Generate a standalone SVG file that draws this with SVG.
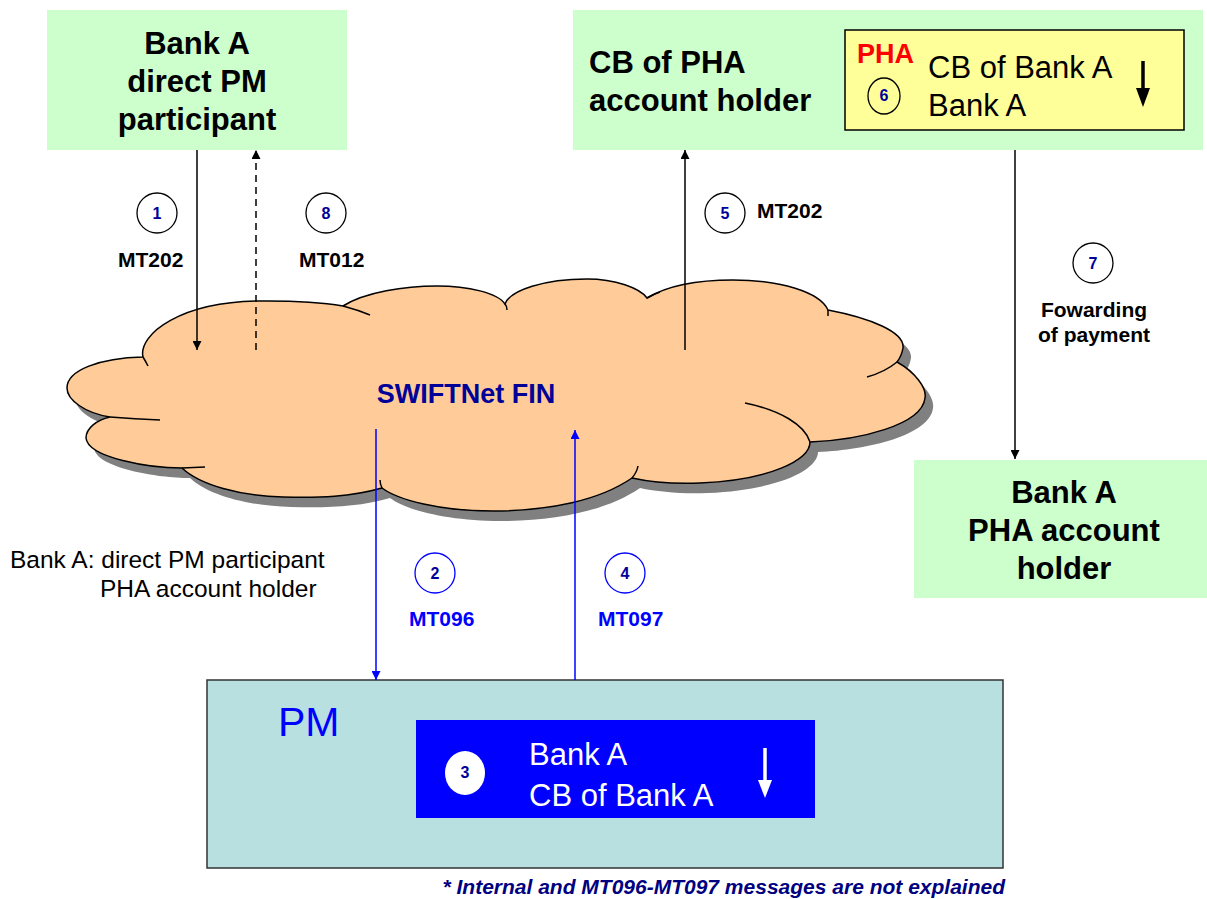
<svg xmlns="http://www.w3.org/2000/svg" width="1207" height="899" viewBox="0 0 1207 899">
<defs>
<style>
.green{fill:#CCFFCC;stroke:none}
.title{font-family:"Liberation Sans",Arial,sans-serif;font-weight:bold;font-size:31px;fill:#000}
.lbl{font-family:"Liberation Sans",Arial,sans-serif;font-weight:bold;font-size:21px;fill:#000}
.blbl{font-family:"Liberation Sans",Arial,sans-serif;font-weight:bold;font-size:21px;fill:#0000FF}
.num{font-family:"Liberation Sans",Arial,sans-serif;font-weight:bold;font-size:16px;fill:#000099;text-anchor:middle}
.circ{fill:#fff;stroke:#000;stroke-width:1.3}
.bcirc{fill:#fff;stroke:#0000FF;stroke-width:1.3}
.norm{font-family:"Liberation Sans",Arial,sans-serif;font-size:31px;fill:#000}
.conn{stroke:#000;stroke-width:1.5;fill:none}
.bconn{stroke:#0000FF;stroke-width:1.5;fill:none}
.tail{fill:none;stroke:#000;stroke-width:1.5}
</style>
<marker id="ah" viewBox="0 0 10 10" refX="10" refY="5" markerWidth="10" markerHeight="9" markerUnits="userSpaceOnUse" orient="auto"><path d="M0,0 L10,5 L0,10 z" fill="#000"/></marker>
<marker id="ahb" viewBox="0 0 10 10" refX="10" refY="5" markerWidth="10" markerHeight="9" markerUnits="userSpaceOnUse" orient="auto"><path d="M0,0 L10,5 L0,10 z" fill="#0000FF"/></marker>
<path id="cloudPath" d="M143,357 C138,335 180,300 267,301 C300,301 325,303 343,306 C365,292 405,286 437,286 C468,286 498,293 505,304 C510,290 545,279 587,279 C615,279 640,288 647,298 C670,284 705,280 733,280 C780,280 820,292 828,310 C870,318 905,332 903,348 C902,354 900,358 897,362 C915,372 927,388 925,398 C922,425 860,440 810,442 C810,460 770,480 700,483 C675,484 650,482 632,478 C600,500 550,511 493,511 C440,511 398,500 382,488 C350,497 320,498 283,497 C240,496 200,485 182,468 C150,468 88,458 86,438 C86,428 97,420 110,417 C85,413 67,400 67,388 C67,370 100,358 143,357 Z"/>
</defs>
<rect width="1207" height="899" fill="#fff"/>

<g id="cloud">
<use href="#cloudPath" transform="translate(8,10)" fill="#808080"/>
<use href="#cloudPath" fill="#FFCC99" stroke="#000" stroke-width="1.5"/>
<path class="tail" d="M143,357 Q146,362 148,366 M110,417 Q135,419 160,420 M182,468 L205,467 M343,306 Q358,310 370,315 M505,304 Q507,306 507,310 M647,298 Q654,294 660,292 M828,310 L828,316 M897,362 Q885,372 867,377 M810,442 C805,425 780,410 745,403 M632,478 Q637,472 638,466 M382,488 Q380,484 380,480"/>
<text x="466" y="403" text-anchor="middle" font-family="Liberation Sans, Arial, sans-serif" font-weight="bold" font-size="27" fill="#000099">SWIFTNet FIN</text>
</g>

<g id="bankA-direct">
<rect class="green" x="47" y="10" width="300" height="140"/>
<text class="title" x="197" y="54" text-anchor="middle">Bank A</text>
<text class="title" x="197" y="92" text-anchor="middle">direct PM</text>
<text class="title" x="197" y="130" text-anchor="middle">participant</text>
</g>

<g id="cb-pha">
<rect class="green" x="573" y="10" width="630" height="140"/>
<text class="title" x="589" y="73">CB of PHA</text>
<text class="title" x="589" y="111">account holder</text>
<rect x="845" y="30" width="339" height="100" fill="#FFFF99" stroke="#000" stroke-width="1.5"/>
<text x="857" y="63" font-family="Liberation Sans, Arial, sans-serif" font-weight="bold" font-size="27" fill="#FF0000">PHA</text>
<ellipse cx="884" cy="96" rx="16" ry="18" fill="none" stroke="#000" stroke-width="1.3"/>
<text class="num" x="884" y="101" font-size="14">6</text>
<text class="norm" x="928" y="78">CB of Bank A</text>
<text class="norm" x="928" y="116">Bank A</text>
<line x1="1143" y1="61" x2="1143" y2="90" stroke="#000" stroke-width="3.5"/>
<path d="M1136,88 L1150,88 L1143,107 Z" fill="#000"/>
</g>

<g id="bankA-pha">
<rect class="green" x="914" y="460" width="293" height="138"/>
<text class="title" x="1064" y="503" text-anchor="middle">Bank A</text>
<text class="title" x="1064" y="541" text-anchor="middle">PHA account</text>
<text class="title" x="1064" y="579" text-anchor="middle">holder</text>
</g>

<g id="pm">
<rect x="207" y="680" width="796" height="188" fill="#B9E0E1" stroke="#333" stroke-width="1.5"/>
<text x="278" y="736" font-family="Liberation Sans, Arial, sans-serif" font-size="41" fill="#0000FF">PM</text>
<rect x="416" y="720" width="399" height="98" fill="#0000FF"/>
<ellipse cx="465" cy="773" rx="20" ry="22" fill="#fff"/>
<text class="num" x="465" y="778" font-size="14" fill="#0000FF">3</text>
<text x="529" y="765" font-family="Liberation Sans, Arial, sans-serif" font-size="31" fill="#fff">Bank A</text>
<text x="529" y="806" font-family="Liberation Sans, Arial, sans-serif" font-size="31" fill="#fff">CB of Bank A</text>
<line x1="765" y1="748" x2="765" y2="782" stroke="#fff" stroke-width="3.5"/>
<path d="M758,780 L772,780 L765,798 Z" fill="#fff"/>
</g>

<g id="connectors">
<line class="conn" x1="197" y1="150" x2="197" y2="350" marker-end="url(#ah)"/>
<line class="conn" x1="256" y1="350" x2="256" y2="150" stroke-dasharray="7,5" marker-end="url(#ah)"/>
<line class="conn" x1="685" y1="350" x2="685" y2="150" marker-end="url(#ah)"/>
<line class="conn" x1="1015" y1="150" x2="1015" y2="459" marker-end="url(#ah)"/>
<line class="bconn" x1="376" y1="429" x2="376" y2="680" marker-end="url(#ahb)"/>
<line class="bconn" x1="575" y1="680" x2="575" y2="430" marker-end="url(#ahb)"/>
</g>

<g id="labels">
<circle class="circ" cx="157" cy="213" r="20"/>
<text class="num" x="157" y="219">1</text>
<text class="lbl" x="118" y="267">MT202</text>
<circle class="circ" cx="326" cy="213" r="20"/>
<text class="num" x="326" y="219">8</text>
<text class="lbl" x="299" y="267">MT012</text>
<circle class="circ" cx="725" cy="213" r="20"/>
<text class="num" x="725" y="219">5</text>
<text class="lbl" x="757" y="218">MT202</text>
<circle class="circ" cx="1093" cy="263" r="20"/>
<text class="num" x="1093" y="269">7</text>
<text class="lbl" x="1094" y="317" text-anchor="middle">Fowarding</text>
<text class="lbl" x="1094" y="342" text-anchor="middle">of payment</text>
<circle class="bcirc" cx="435" cy="573" r="20"/>
<text class="num" x="435" y="579">2</text>
<text class="blbl" x="409" y="626">MT096</text>
<circle class="bcirc" cx="625" cy="573" r="20"/>
<text class="num" x="625" y="579">4</text>
<text class="blbl" x="598" y="626">MT097</text>
<text x="10" y="568" font-family="Liberation Sans, Arial, sans-serif" font-size="24.5" fill="#000">Bank A: direct PM participant</text>
<text x="100" y="597" font-family="Liberation Sans, Arial, sans-serif" font-size="24.5" fill="#000">PHA account holder</text>
<text x="1005" y="894" text-anchor="end" font-family="Liberation Sans, Arial, sans-serif" font-weight="bold" font-style="italic" font-size="21" fill="#000080">* Internal and MT096-MT097 messages are not explained</text>
</g>
</svg>
